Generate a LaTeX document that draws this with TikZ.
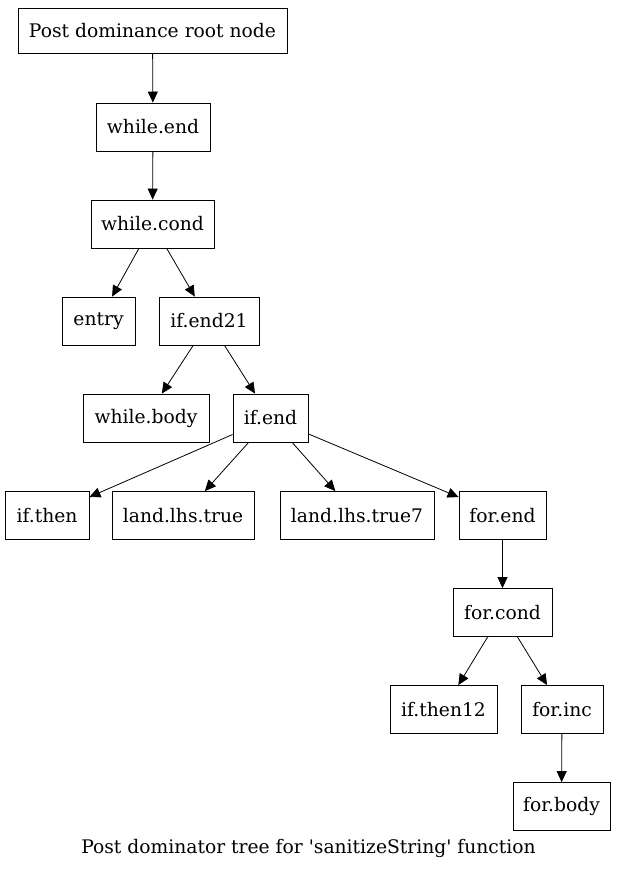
\documentclass[tikz,border=0pt]{standalone}
\usepackage{fontspec}
\newfontfamily\dvs{DejaVu Serif}
\usetikzlibrary{arrows.meta}
\begin{document}
\begin{tikzpicture}[x=1pt,y=-1pt,
  lbl/.style={font=\dvs\fontsize{18.7pt}{21pt}\selectfont},
  box/.style={lbl, draw, line width=0.8pt, minimum height=48pt, inner sep=0pt},
  edge/.style={-{Triangle[length=11pt,width=10pt]}, line width=0.8pt}]
\useasboundingbox (0,0) rectangle (617,869);
\node[box, minimum width=269pt, minimum height=45pt] (root) at (152.5,30.5) {Post dominance root node};
\node[box, minimum width=114pt] (wend) at (153,127) {while.end};
\node[box, minimum width=123pt] (wcond) at (152.5,224) {while.cond};
\node[box, minimum width=73pt] (entry) at (98.5,321) {entry};
\node[box, minimum width=100pt] (ifend21) at (209,321) {if.end21};
\node[box, minimum width=126pt] (wbody) at (146,418) {while.body};
\node[box, minimum width=75pt] (ifend) at (270.5,418) {if.end};
\node[box, minimum width=84pt] (ifthen) at (47,515.5) {if.then};
\node[box, minimum width=142pt] (lhs) at (183,515.5) {land.lhs.true};
\node[box, minimum width=154pt] (lhs7) at (357,515.5) {land.lhs.true7};
\node[box, minimum width=87pt] (forend) at (502.5,515.5) {for.end};
\node[box, minimum width=99pt] (forcond) at (502.5,612.5) {for.cond};
\node[box, minimum width=107pt] (ifthen12) at (443.5,709.5) {if.then12};
\node[box, minimum width=82pt] (forinc) at (562,709.5) {for.inc};
\node[box, minimum width=97pt] (forbody) at (561.5,806.5) {for.body};
\node[lbl] (cap) at (308.5,848) {Post dominator tree for 'sanitizeString' function};
\draw[edge] (root) -- (wend);
\draw[edge] (wend) -- (wcond);
\draw[edge] (wcond) -- (entry);
\draw[edge] (wcond) -- (ifend21);
\draw[edge] (ifend21) -- (wbody);
\draw[edge] (ifend21) -- (ifend);
\draw[edge] (ifend) -- (ifthen);
\draw[edge] (ifend) -- (lhs);
\draw[edge] (ifend) -- (lhs7);
\draw[edge] (ifend) -- (forend);
\draw[edge] (forend) -- (forcond);
\draw[edge] (forcond) -- (ifthen12);
\draw[edge] (forcond) -- (forinc);
\draw[edge] (forinc) -- (forbody);
\end{tikzpicture}
\end{document}
